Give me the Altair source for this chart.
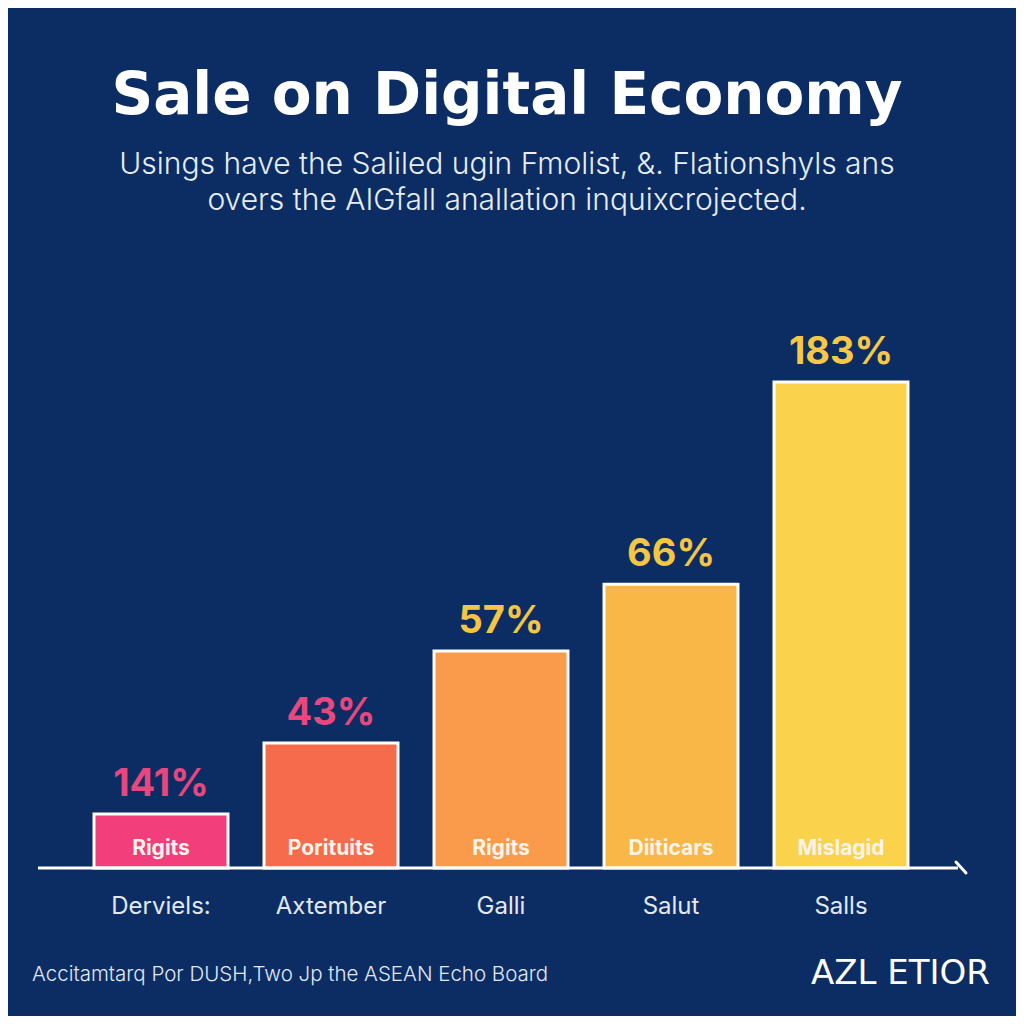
import altair as alt
import pandas as pd

# ---- data ----
categories = ["Derviels:", "Axtember", "Galli", "Salut", "Salls"]
bar_heights = [20.3, 47.1, 81.7, 106.9, 183.0]          # visual bar heights (in % units, tallest = 183)
value_labels = ["141%", "43%", "57%", "66%", "183%"]
inner_labels = ["Rigits", "Porituits", "Rigits", "Diiticars", "Mislagid"]
bar_colors = ["#f23e7a", "#f66b4b", "#f99b4b", "#f9b747", "#fbd24b"]
label_colors = ["#e9467d", "#e9487e", "#f4c544", "#f5c544", "#f6c846"]

title_text = "Sale on Digital Economy"
subtitle_lines = [
    "Usings have the Saliled ugin Fmolist, &. Flationshyls ans",
    "overs the AIGfall anallation inquixcrojected.",
]
footer_text = "Accitamtarq Por DUSH,Two Jp the ASEAN Echo Board"
logo_text = "AZL ETIOR"

BG = "#0c2d64"

df = pd.DataFrame({
    "category": categories,
    "height": bar_heights,
    "value_label": value_labels,
    "inner_label": inner_labels,
    "label_color": label_colors,
})

x = alt.X(
    "category:N",
    sort=categories,
    scale=alt.Scale(paddingInner=0.212, paddingOuter=0.506),
    axis=alt.Axis(
        title=None, domain=False, ticks=False, grid=False, labelAngle=0,
        labelFontSize=24, labelColor="#e3e9f3", labelFont="Inter",
        labelPadding=26,
    ),
)
y = alt.Y("height:Q", scale=alt.Scale(domain=[0, 213.9], nice=False, zero=True), axis=None)

base = alt.Chart(df)

bars = base.mark_bar(stroke="white", strokeWidth=3).encode(
    x=x,
    y=y,
    color=alt.Color("category:N", scale=alt.Scale(domain=categories, range=bar_colors), legend=None),
)

values = base.mark_text(
    baseline="alphabetic", dy=-18, fontSize=38, fontWeight="bold", font="Inter"
).encode(
    x=x, y=y, text="value_label:N", color=alt.Color("label_color:N", scale=None)
)

inner = base.mark_text(
    baseline="alphabetic", dy=-13, fontSize=21, fontWeight="bold", font="Inter", color="#fff4ec"
).encode(
    x=x, y=alt.datum(0), text="inner_label:N"
)

one = alt.Chart(pd.DataFrame({"v": [0]}))
axis_line = one.mark_rule(color="white", strokeWidth=3).encode(
    x=alt.value(30), x2=alt.value(950), y=alt.datum(0)
)
axis_hook = one.mark_rule(color="white", strokeWidth=3, strokeCap="round").encode(
    x=alt.value(948), y=alt.value(562), x2=alt.value(958), y2=alt.value(573)
)

footer = alt.Chart(pd.DataFrame({"t": [footer_text]})).mark_text(
    align="left", baseline="middle", fontSize=20.5, font="Inter", fontWeight=300, color="#e1e8f3"
).encode(x=alt.value(24), y=alt.value(675), text="t:N")

logo = alt.Chart(pd.DataFrame({"t": [logo_text]})).mark_text(
    align="right", baseline="middle", fontSize=34, font="DejaVu Sans", color="white"
).encode(x=alt.value(982), y=alt.value(674), text="t:N")

chart = alt.layer(bars, values, inner, axis_line, axis_hook, footer, logo).properties(
    width=986,
    height=568,
    autosize=alt.AutoSizeParams(type="none"),
    padding={"left": 0, "top": 292, "right": 22, "bottom": 148},
    background=BG,
    title=alt.Title(
        title_text,
        subtitle=subtitle_lines,
        anchor="middle",
        dx=6,
        color="white",
        font="DejaVu Sans",
        fontSize=58,
        fontWeight="bold",
        subtitleColor="#e8edf6",
        subtitleFont="Inter",
        subtitleFontSize=30,
        subtitleFontWeight=300,
        subtitleLineHeight=36,
        subtitlePadding=24,
        offset=84,
    ),
).configure_view(stroke=None)

chart.save("out.html", embed_options={"renderer": "svg", "actions": False})
